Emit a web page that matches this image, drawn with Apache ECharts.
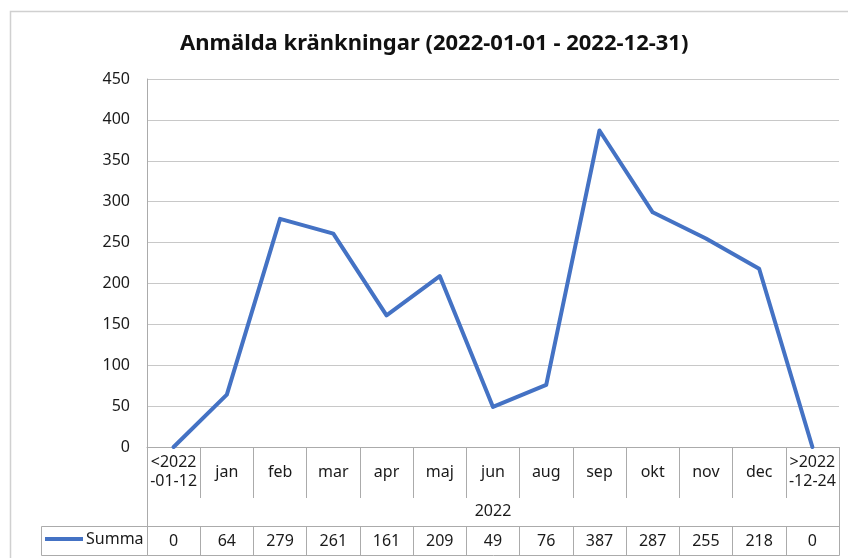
<!DOCTYPE html>
<html>
<head>
<meta charset="utf-8">
<title>Anmälda kränkningar</title>
<script src="https://cdn.jsdelivr.net/npm/echarts@6/dist/echarts.min.js"></script>
<style>
  html, body { margin: 0; padding: 0; background: #fff; }
  #main { width: 848px; height: 558px; }
</style>
</head>
<body>
<div id="main"></div>
<script>
// data
var categories = ['<2022\n-01-12', 'jan', 'feb', 'mar', 'apr', 'maj', 'jun', 'aug', 'sep', 'okt', 'nov', 'dec', '>2022\n-12-24'];
var summa = [0, 64, 279, 261, 161, 209, 49, 76, 387, 287, 255, 218, 0];
var yearLabel = ['2022'];
var seriesName = 'Summa';
var titleText = 'Anmälda kränkningar (2022-01-01 - 2022-12-31)';

// layout
var W = 848, H = 558;
var plotL = 147, plotR = 839, plotT = 79, plotB = 447;
var catRowH = 51, summaTop = 526, summaBot = 555, legendCellL = 41;
var tableColor = '#ababab';
var textColor = '#1a1a1a';
var font = 'Noto Sans';

var chart = echarts.init(document.getElementById('main'));

chart.setOption({
    animation: false,
    textStyle: { fontFamily: font },
    title: {
        text: titleText,
        left: 180,
        top: 33,
        padding: 0,
        textStyle: { fontSize: 22, fontWeight: 'bold', color: '#111', fontFamily: font }
    },
    legend: {
        left: 45,
        top: 531,
        padding: 0,
        icon: 'rect',
        itemWidth: 38,
        itemHeight: 4,
        itemGap: 0,
        textStyle: { fontSize: 16, color: textColor, padding: [0, 0, 0, -2] },
        data: [seriesName]
    },
    grid: {
        left: plotL,
        right: W - plotR,
        top: plotT,
        bottom: H - plotB,
        containLabel: false
    },
    xAxis: [{
        type: 'category',
        data: categories,
        boundaryGap: true,
        position: 'bottom',
        axisLine: { show: true, lineStyle: { color: tableColor } },
        axisTick: { show: true, interval: 0, length: catRowH, lineStyle: { color: tableColor } },
        axisLabel: {
            interval: 0, margin: 25, verticalAlign: 'middle',
            fontSize: 16, lineHeight: 19, color: textColor
        },
        splitLine: { show: false }
    }, {
        type: 'category',
        data: yearLabel,
        position: 'bottom',
        offset: catRowH,
        axisLine: { show: false },
        axisTick: { show: false },
        axisLabel: { margin: 13, verticalAlign: 'middle', fontSize: 16, color: textColor }
    }, {
        type: 'category',
        data: categories,
        position: 'bottom',
        offset: summaTop - plotB,
        axisLine: { show: true, lineStyle: { color: tableColor } },
        axisTick: { show: true, interval: 0, length: summaBot - summaTop, lineStyle: { color: tableColor } },
        axisLabel: {
            interval: 0, margin: 15, verticalAlign: 'middle', fontSize: 16, color: textColor,
            formatter: function (v, i) { return String(summa[i]); }
        }
    }],
    yAxis: {
        type: 'value',
        min: 0,
        max: 450,
        interval: 50,
        axisLine: { show: true, lineStyle: { color: tableColor } },
        axisTick: { show: false },
        axisLabel: { margin: 17, fontSize: 16, color: textColor },
        splitLine: { show: true, lineStyle: { color: '#c8c8c8', width: 1 } }
    },
    series: [{
        name: seriesName,
        type: 'line',
        xAxisIndex: 0,
        data: summa,
        showSymbol: false,
        symbol: 'none',
        lineStyle: { color: '#4472C4', width: 4, cap: 'round', join: 'round' },
        itemStyle: { color: '#4472C4' }
    }],
    graphic: [{
        type: 'rect',
        silent: true,
        shape: { x: 10.5, y: 11.5, width: 900, height: 600 },
        style: { fill: null, stroke: '#d0d0d0', lineWidth: 1.5 }
    }, {
        type: 'rect',
        silent: true,
        shape: { x: plotL + 0.5, y: plotB + 0.5, width: plotR - plotL, height: summaBot - plotB },
        style: { fill: null, stroke: tableColor, lineWidth: 1 }
    }, {
        type: 'rect',
        silent: true,
        shape: { x: legendCellL + 0.5, y: summaTop + 0.5, width: plotL - legendCellL, height: summaBot - summaTop },
        style: { fill: null, stroke: tableColor, lineWidth: 1 }
    }]
});
</script>
</body>
</html>
